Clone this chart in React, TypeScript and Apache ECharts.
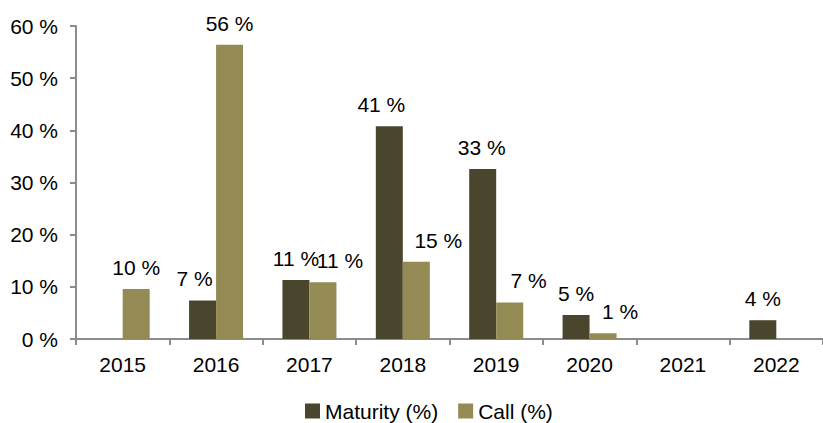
import React, { useEffect, useRef } from "react";
import * as echarts from "echarts";

const categories = ["2015", "2016", "2017", "2018", "2019", "2020", "2021", "2022"];
const maturity: (number | null)[] = [null, 7.4, 11.3, 40.8, 32.6, 4.6, null, 3.6];
const call: (number | null)[] = [9.6, 56.4, 10.9, 14.8, 7.0, 1.1, null, null];
const seriesNames = ["Maturity (%)", "Call (%)"];

// horizontal nudges of the data labels, as placed in the reference
const maturityLabelDx = [0, -8, 0, -8, -1, 0, 0, 0];
const callLabelDx = [0, 0, 17, 22, 19, 17, 0, 0];

export default function App() {
  const ref = useRef<HTMLDivElement>(null);
  useEffect(() => {
    if (!ref.current) return;
    const chart = echarts.init(ref.current, null, { renderer: "svg" });
    const font = "Liberation Sans, Arial, sans-serif";
    const label = {
      show: true,
      position: "top" as const,
      distance: 11,
      color: "#000",
      fontSize: 21,
      fontFamily: font,
      formatter: (p: any) => `${Math.round(p.value)} %`,
    };
    const withDx = (vals: (number | null)[], dx: number[]) =>
      vals.map((v, i) => (v == null ? null : { value: v, label: { offset: [dx[i], 0] } }));
    chart.setOption({
      animation: false,
      backgroundColor: "#fff",
      textStyle: { fontFamily: font },
      grid: { left: 76, right: -10, top: 26, bottom: 84, containLabel: false },
      legend: {
        data: seriesNames,
        left: 305,
        top: 400,
        padding: 0,
        itemWidth: 15,
        itemHeight: 15,
        itemGap: 20,
        textStyle: { fontSize: 21, lineHeight: 22, color: "#000", fontFamily: font },
        icon: "rect",
      },
      xAxis: {
        type: "category",
        data: categories,
        axisLine: { lineStyle: { color: "#8c8c8c", width: 2 } },
        axisTick: { show: true, length: 6, lineStyle: { color: "#8c8c8c", width: 2 } },
        axisLabel: { color: "#000", fontSize: 21, margin: 15, fontFamily: font },
      },
      yAxis: {
        type: "value",
        min: 0,
        max: 60,
        interval: 10,
        splitLine: { show: false },
        axisLine: { show: true, lineStyle: { color: "#8c8c8c", width: 2 } },
        axisTick: { show: true, length: 6, lineStyle: { color: "#8c8c8c", width: 2 } },
        axisLabel: { color: "#000", fontSize: 21, margin: 18, formatter: "{value} %", fontFamily: font },
      },
      series: [
        {
          name: seriesNames[0],
          type: "bar",
          data: withDx(maturity, maturityLabelDx),
          barWidth: 27,
          barGap: "0%",
          itemStyle: { color: "#4A452D" },
          label,
        },
        {
          name: seriesNames[1],
          type: "bar",
          data: withDx(call, callLabelDx),
          barWidth: 27,
          barGap: "0%",
          itemStyle: { color: "#948A54" },
          label,
        },
      ],
    });
    return () => chart.dispose();
  }, []);
  return (
    <div
      ref={ref}
      style={{ position: "fixed", left: 0, top: 0, width: 823, height: 423, background: "#fff" }}
    />
  );
}
